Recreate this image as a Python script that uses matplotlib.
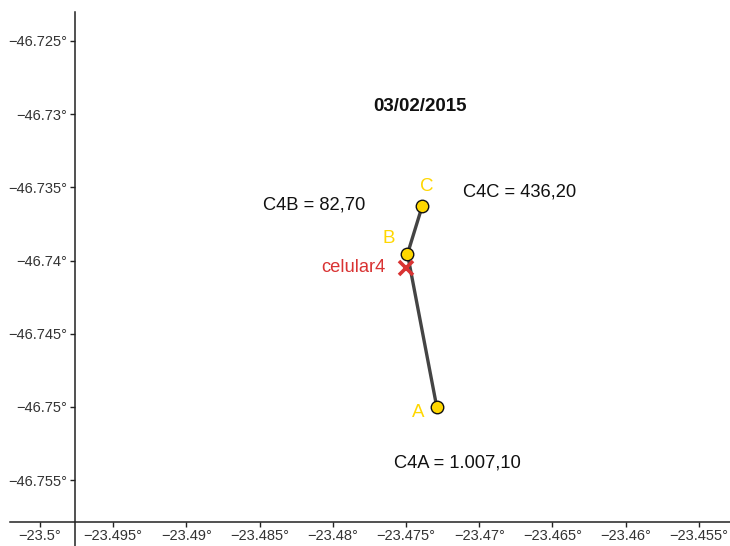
import matplotlib
matplotlib.use("Agg")
import matplotlib.pyplot as plt

plt.rcParams['font.family'] = ['Liberation Sans', 'DejaVu Sans']

# Tower positions (A, B, C) and estimated phone location
tower_names = ["A", "B", "C"]
tower_x = [-23.4729, -23.4749, -23.4739]
tower_y = [-46.7500, -46.73955, -46.7363]

phone_name = "celular4"
phone_x = -23.4750
phone_y = -46.7405

# Distance labels per tower
dist_labels = ["C4A = 1.007,10", "C4B = 82,70", "C4C = 436,20"]
dist_x = [-23.47152, -23.48128, -23.46721]
dist_y = [-46.75383, -46.73620, -46.73531]

title_text = "03/02/2015"

x_ticks = [-23.5, -23.495, -23.49, -23.485, -23.48, -23.475, -23.47, -23.465, -23.46, -23.455]
y_ticks = [-46.755, -46.75, -46.745, -46.74, -46.735, -46.73, -46.725]


def deg_fmt(v):
    s = f"{v:g}°"
    return s.replace("-", "\u2212")


fig = plt.figure(figsize=(7.30, 5.46), dpi=100)
ax = fig.add_axes([10 / 730, 0.0, 720 / 730, (546 - 11.7) / 546])

ax.set_xlim(-23.50205, -23.45287)
ax.set_ylim(-46.7595, -46.7230)

# Axes cross inside the plotting area
for s in ("top", "right"):
    ax.spines[s].set_visible(False)
ax.spines["left"].set_position(("data", -23.4976))
ax.spines["bottom"].set_position(("data", -46.75786))
for s in ("left", "bottom"):
    ax.spines[s].set_color("#222222")
    ax.spines[s].set_linewidth(1.1)

ax.set_xticks(x_ticks)
ax.set_xticklabels([deg_fmt(v) for v in x_ticks])
ax.set_yticks(y_ticks)
ax.set_yticklabels([deg_fmt(v) for v in y_ticks])
ax.tick_params(axis="both", direction="out", length=3.5, width=1.0,
               color="#222222", labelsize=10.5, labelcolor="#333333")
ax.tick_params(axis="x", pad=1.5)
ax.tick_params(axis="y", pad=2.5)

# Path joining the towers
ax.plot(tower_x, tower_y, color="#444444", linewidth=2.4, zorder=2,
        solid_capstyle="round")
ax.plot(tower_x, tower_y, linestyle="none", marker="o", markersize=9,
        markerfacecolor="#FFD700", markeredgecolor="#111111",
        markeredgewidth=1.0, zorder=3)

# Tower labels, offset from each tower
tower_label_dx = [-0.00128, -0.00126, 0.00034]
tower_label_dy = [-0.00041, 0.00109, 0.00137]
for n, x, y, dx, dy in zip(tower_names, tower_x, tower_y, tower_label_dx, tower_label_dy):
    ax.text(x + dx, y + dy, n, color="#FFD700", fontsize=13.5,
            ha="center", va="center", zorder=4)

# Phone location
ax.plot([phone_x], [phone_y], linestyle="none", marker="x", markersize=10,
        markeredgewidth=2.6, color="#D93333", zorder=4)
ax.text(phone_x - 0.0014, phone_y + 0.00002, phone_name, color="#D93333",
        fontsize=13.2, ha="right", va="center", zorder=4)

# Distance annotations
for lbl, x, y in zip(dist_labels, dist_x, dist_y):
    ax.text(x, y, lbl, color="#111111", fontsize=13.2, ha="center", va="center")

ax.text(-23.47404, -46.72945, title_text, fontsize=13.5, fontweight="bold",
        ha="center", va="center", color="#111111")

fig.savefig("out.png", dpi=100)
